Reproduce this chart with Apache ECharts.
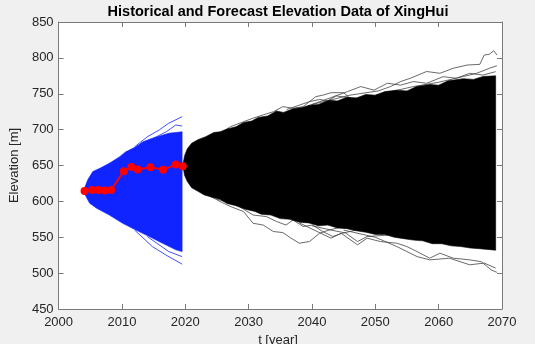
<!DOCTYPE html>
<html>
<head>
<meta charset="utf-8">
<script src="https://cdn.jsdelivr.net/npm/echarts@6/dist/echarts.min.js"></script>
<style>
html,body{margin:0;padding:0;background:#f0f0f0;}
#chart{width:535px;height:344px;}
</style>
</head>
<body>
<div id="chart"></div>
<script>
// ---- Data ----
const X_TICKS = [2000, 2010, 2020, 2030, 2040, 2050, 2060, 2070];
const Y_TICKS = [450, 500, 550, 600, 650, 700, 750, 800, 850];

// Observed (historical) elevation, red line with markers
const OBSERVED = [[2004.1,614.5],[2005.3,616],[2006.3,616],[2007.3,615],[2008.3,616],
  [2010.3,642],[2011.5,648],[2012.5,644.5],[2014.5,647.5],[2016.5,644],[2018.5,651.5],[2019.6,649]];

// Envelope of the dense blue (historical simulation) fan
const BLUE_UPPER = [[2003.9,615],[2004.3,623],[2004.6,630],[2005.4,641.5],[2006.5,646],[2008,653],
  [2009.6,662],[2010.6,669],[2012.2,676],[2013.3,683],[2014.8,688],[2017.4,695],[2019.5,697]];
const BLUE_LOWER = [[2003.9,615],[2004.2,609],[2004.9,597.5],[2006,590.5],[2008,581],[2010.1,569.5],
  [2012.2,560],[2014.3,551],[2016.4,541.7],[2018.5,532.5],[2019.5,530]];

// Blue paths sticking out of the fan
const BLUE_EDGE_1 = [[2012,676],[2014,690],[2015.9,699.6],[2017.4,709],[2019.5,718]];
const BLUE_EDGE_2 = [[2015,688],[2017,697],[2018.5,706.5],[2019.5,705]];
const BLUE_EDGE_3 = [[2012,560],[2014.8,537],[2016.9,525.5],[2019.5,512.5]];
const BLUE_EDGE_4 = [[2014,551],[2017.4,530],[2019.5,523]];

// Envelope of the dense black (forecast) fan
const BLACK_UPPER = [[2019.6,650],[2019.9,664],[2020.3,673],[2021,681],[2022,686],[2023.2,690],[2024.5,696],
  [2025.5,697],[2026.6,701],[2028,704],[2029.2,710],[2030.5,712],[2031.5,717],[2033,719],[2034.4,726],
  [2035.5,724],[2037,729],[2038.5,731],[2039.6,734],[2041,735],[2042.7,741],[2044,740],[2045.5,745],
  [2047,744],[2048.5,749],[2050,748],[2051.5,753],[2053.4,755],[2055,754],[2056.5,760],[2058.6,763],
  [2060,762],[2061.5,768],[2063.9,771],[2065.5,770],[2067,774],[2069,775]];
const BLACK_LOWER = [[2019.6,650],[2019.9,636],[2020.3,628],[2021,619],[2022,614],[2023,609],[2024.5,605],
  [2025.5,603],[2026.6,597],[2028,594],[2029.5,589],[2031,586],[2032,582],[2033.5,581],[2035,576],
  [2036.5,575],[2038,571],[2039.5,570],[2041,566],[2042.5,567],[2044,563],[2045.5,562],[2047,559],
  [2048.5,557],[2050,554],[2051.5,554],[2053,550],[2054.5,548],[2056,546],[2057.5,545],[2059,541],
  [2060.5,541],[2062,538],[2063.5,537],[2065,535],[2066.5,534],[2069,532]];

// Black forecast paths sticking out of the fan
const BLACK_EDGE_U1 = [[2019.6,650],[2030,700],[2040,735],[2046,748],[2050.5,754],[2052.4,760],[2054,767],
  [2055.5,771.5],[2058.1,781],[2060.2,778.5],[2062.3,785.5],[2064.5,790],[2066.5,791],[2067.2,804],
  [2068,805],[2068.7,810],[2069.2,804]];
const BLACK_EDGE_U2 = [[2019.6,650],[2024,685],[2026,697],[2027.1,704],[2029.2,711],[2030.7,716],[2032.3,720.5],
  [2033.9,725],[2035.4,732],[2037,729.8],[2038.6,732],[2040.6,746],[2041.7,748],[2043,751.5],[2045,751.5],
  [2046,743.7],[2050,745]];
const BLACK_EDGE_U3 = [[2050,748],[2056,760],[2060,766],[2063.9,774],[2066,778.5],[2068,785.5],[2069.2,789]];
const BLACK_EDGE_U4 = [[2040,735],[2045.6,753],[2047.7,760],[2049.8,755],[2051.9,764.6],[2054,762],[2056,767],
  [2058.1,764.6],[2060.7,773.8],[2062.8,771.6],[2064.9,778.5],[2067,776],[2069,780.8]];
const BLACK_EDGE_U5 = [[2036,728],[2039.6,739],[2041.2,742],[2042.5,740],[2043.8,747],[2045.4,745],[2048,740]];
const BLACK_EDGE_L1 = [[2019.6,648],[2024,607],[2025.5,599.7],[2027.1,593],[2029.2,585.8],[2030.7,569.5],
  [2032.3,567],[2033.9,558],[2035.4,556.5],[2036.7,548.7],[2038,541.7],[2039.6,544],[2041.2,555.6],
  [2042.7,560],[2045,565]];
const BLACK_EDGE_L2 = [[2038,570],[2043,548.7],[2044.6,555.6],[2047.2,539.4],[2048.7,548.7],[2050.8,544],
  [2053.4,541.7],[2055,537],[2056.6,530],[2058.6,520.8],[2060.2,527.8],[2062.3,520.8],[2064.9,518.5],
  [2066.7,516],[2068.3,504.6],[2069.2,501]];
const BLACK_EDGE_L3 = [[2045,560],[2050,550],[2053.4,537],[2056.6,523],[2058.6,518.5],[2061.7,520.8],
  [2064.9,511.6],[2067.2,514],[2069,507]];
const BLACK_EDGE_L4 = [[2025,603],[2028.1,595],[2030.7,581],[2032.8,578.8],[2034.4,572],[2035.9,567],
  [2037,574],[2038.6,565],[2040.1,567],[2041.7,558],[2043.3,551],[2044.8,555.6],[2047,560]];
const BLACK_EDGE_L5 = [[2040,566],[2043,560],[2045.3,556],[2047.2,544],[2048.7,551],[2052,553]];

// ---- Chart ----
const FONT = 'Liberation Sans, Arial, Helvetica, sans-serif';
const AXIS_COLOR = '#7a7a7a';
const TEXT_COLOR = '#262626';

function band(upper, lower, color, z) {
  return {
    type: 'custom', coordinateSystem: 'cartesian2d', silent: true, z: z,
    data: [upper[0]],
    renderItem: function (params, api) {
      const pts = upper.map(p => api.coord(p)).concat(lower.slice().reverse().map(p => api.coord(p)));
      return { type: 'polygon', shape: { points: pts }, style: { fill: color, stroke: color, lineWidth: 0.6 } };
    }
  };
}
function path(data, color, width, z) {
  return { type: 'line', data: data, symbol: 'none', silent: true, z: z,
    lineStyle: { color: color, width: width }, animation: false };
}

const BLUE = '#1024ff';
const EDGE_BLACK = '#444444';

const chart = echarts.init(document.getElementById('chart'), null, { renderer: 'canvas' });
const axisCommon = {
  type: 'value', splitLine: { show: false },
  axisLine: { show: true, onZero: false, lineStyle: { color: AXIS_COLOR, width: 1 } },
  axisTick: { show: true, inside: true, length: 5, lineStyle: { color: AXIS_COLOR, width: 1 } }
};
chart.setOption({
  animation: false,
  backgroundColor: '#f0f0f0',
  grid: { left: 55, right: 33, top: 22, bottom: 35, show: true, backgroundColor: '#ffffff', borderWidth: 0 },
  graphic: [{
    type: 'text', x: 278, y: 12, z: 100,
    style: { text: 'Historical and Forecast Elevation Data of XingHui', textAlign: 'center',
      textVerticalAlign: 'middle', font: 'bold 14.5px ' + FONT, fill: '#000000' }
  }, {
    type: 'text', x: 278, y: 340, z: 100,
    style: { text: 't [year]', textAlign: 'center', textVerticalAlign: 'middle',
      font: '13px ' + FONT, fill: TEXT_COLOR }
  }],
  xAxis: [
    Object.assign({}, axisCommon, {
      position: 'bottom', min: X_TICKS[0], max: X_TICKS[X_TICKS.length - 1], interval: 10,
      axisLabel: { fontSize: 13, color: TEXT_COLOR, fontFamily: FONT, margin: 7,
        formatter: v => X_TICKS.includes(v) ? String(v) : '' }
    }),
    Object.assign({}, axisCommon, {
      position: 'top', min: X_TICKS[0], max: X_TICKS[X_TICKS.length - 1], interval: 10,
      axisLabel: { show: false }
    })
  ],
  yAxis: [
    Object.assign({}, axisCommon, {
      position: 'left', min: Y_TICKS[0], max: Y_TICKS[Y_TICKS.length - 1], interval: 50,
      axisLabel: { fontSize: 13, color: TEXT_COLOR, fontFamily: FONT, margin: 5,
        formatter: v => Y_TICKS.includes(v) ? String(v) : '' },
      name: 'Elevation [m]', nameLocation: 'middle', nameGap: 37, nameRotate: 90,
      nameTextStyle: { fontSize: 13, color: TEXT_COLOR, fontFamily: FONT }
    }),
    Object.assign({}, axisCommon, {
      position: 'right', min: Y_TICKS[0], max: Y_TICKS[Y_TICKS.length - 1], interval: 50,
      axisLabel: { show: false }
    })
  ],
  series: [
    band(BLUE_UPPER, BLUE_LOWER, BLUE, 2),
    path(BLUE_EDGE_1, BLUE, 0.8, 2),
    path(BLUE_EDGE_2, BLUE, 0.8, 2),
    path(BLUE_EDGE_3, BLUE, 0.8, 2),
    path(BLUE_EDGE_4, BLUE, 0.8, 2),
    path(BLACK_EDGE_U1, EDGE_BLACK, 0.8, 3),
    path(BLACK_EDGE_U2, EDGE_BLACK, 0.8, 3),
    path(BLACK_EDGE_U3, EDGE_BLACK, 0.8, 3),
    path(BLACK_EDGE_U4, EDGE_BLACK, 0.8, 3),
    path(BLACK_EDGE_U5, EDGE_BLACK, 0.8, 3),
    path(BLACK_EDGE_L1, EDGE_BLACK, 0.8, 3),
    path(BLACK_EDGE_L2, EDGE_BLACK, 0.8, 3),
    path(BLACK_EDGE_L3, EDGE_BLACK, 0.8, 3),
    path(BLACK_EDGE_L4, EDGE_BLACK, 0.8, 3),
    path(BLACK_EDGE_L5, EDGE_BLACK, 0.8, 3),
    band(BLACK_UPPER, BLACK_LOWER, '#000000', 4),
    {
      type: 'line', data: OBSERVED, z: 10, symbol: 'circle', symbolSize: 8,
      lineStyle: { color: '#ff0000', width: 2 }, itemStyle: { color: '#ff0000' }
    }
  ]
});
</script>
</body>
</html>
